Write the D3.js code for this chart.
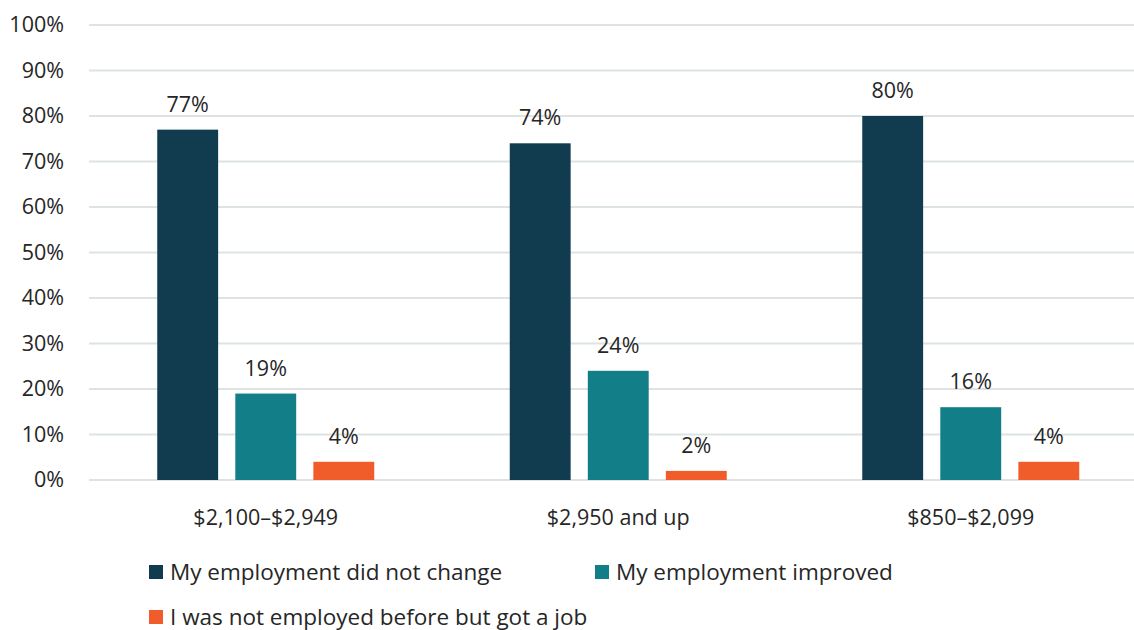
<!DOCTYPE html>
<html><head><meta charset="utf-8">
<script src="https://cdn.jsdelivr.net/npm/d3@7"></script>
<style>body{margin:0;background:#fff}svg{display:block}text{font-family:"Open Sans","Noto Sans",sans-serif;fill:#262626}</style>
</head><body><svg id="c" width="1134" height="630"></svg>
<script>
const categories = ["$2,100–$2,949", "$2,950 and up", "$850–$2,099"];
const seriesNames = ["My employment did not change", "My employment improved", "I was not employed before but got a job"];
const notChanged = [77, 74, 80];
const improved = [19, 24, 16];
const gotJob = [4, 2, 4];
const yTicks = [0, 10, 20, 30, 40, 50, 60, 70, 80, 90, 100];
const colors = ["#113c4f", "#127e88", "#f05c2a"];

const series = [notChanged, improved, gotJob];
const svg = d3.select("#c");
const y = d3.scaleLinear().domain([0, 100]).range([480, 25]);
const x0 = d3.scaleBand().domain(categories).range([89.5, 1147]).paddingInner(0).paddingOuter(0);
const x1 = d3.scaleBand().domain(d3.range(3)).range([67.75, 352.5 - 67.75]).paddingInner(0.22).paddingOuter(0);

// gridlines
svg.append("g").selectAll("line").data(yTicks).join("line")
  .attr("x1", 89).attr("x2", 1134).attr("y1", d => y(d)).attr("y2", d => y(d))
  .attr("stroke", "#dde3e3").attr("stroke-width", 2);

// y labels
const yAxis = d3.axisLeft(y).tickValues(yTicks).tickFormat(d => d + "%").tickSize(0).tickPadding(0);
const ga = svg.append("g").attr("transform", "translate(64,0)").call(yAxis);
ga.select(".domain").remove();
ga.selectAll("text").attr("font-size", 21.5).attr("fill", "#262626").attr("font-family", '"Open Sans","Noto Sans",sans-serif');

// bars
const groups = svg.append("g").selectAll("g").data(categories).join("g")
  .attr("transform", d => `translate(${x0(d)},0)`);
groups.each(function(cat, ci) {
  const g = d3.select(this);
  series.forEach((s, si) => {
    const v = s[ci];
    g.append("rect").attr("x", x1(si)).attr("width", x1.bandwidth())
      .attr("y", y(v)).attr("height", y(0) - y(v)).attr("fill", colors[si]);
    g.append("text").attr("x", x1(si) + x1.bandwidth() / 2).attr("y", y(v) - 18)
      .attr("text-anchor", "middle").attr("font-size", 21.5).text(v + "%");
  });
  g.append("text").attr("x", 352.5 / 2).attr("y", 525).attr("text-anchor", "middle")
    .attr("font-size", 21.5).text(cat);
});

// legend
const legPos = [[149, 572], [595, 572], [149, 617]];
seriesNames.forEach((n, i) => {
  const [lx, ly] = legPos[i];
  svg.append("rect").attr("x", lx).attr("y", ly - 7).attr("width", 14).attr("height", 14).attr("fill", colors[i]);
  svg.append("text").attr("x", lx + 21).attr("y", ly + 8).attr("font-size", 22.5).text(n);
});
</script></body></html>
